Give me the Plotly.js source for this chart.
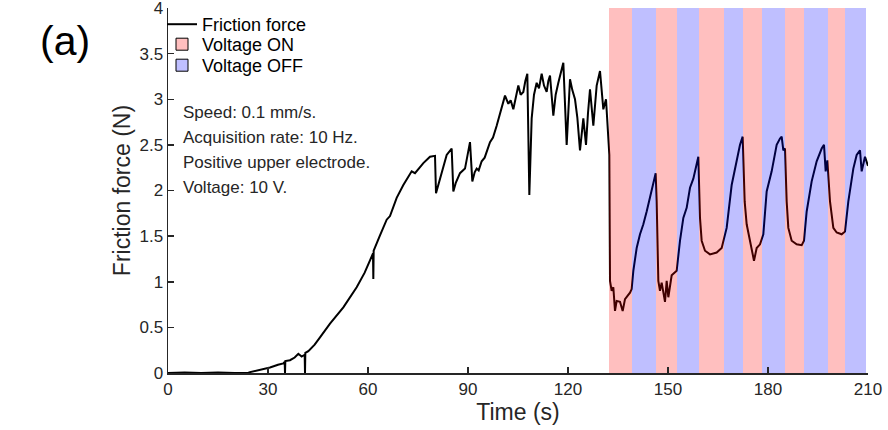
<!DOCTYPE html>
<html>
<head>
<meta charset="utf-8">
<script src="https://cdn.plot.ly/plotly-3.0.1.min.js"></script>
<style>html,body{margin:0;padding:0;background:#fff;}#chart{width:888px;height:430px;}</style>
</head>
<body>
<div id="chart"></div>
<script>
// ---- data ----
const timeS = [0, 5, 10, 15, 20, 24, 24.6, 27, 30.6, 33, 34.6, 35.0, 35.1, 35.2, 36.6, 38, 39.1, 40.1, 41.0, 41.1, 41.2, 42.1, 44, 45.6, 48.6, 52.6, 56.6, 59, 61.5, 61.6, 61.7, 63.5, 65.6, 66.6, 68.6, 70.6, 73.1, 74.1, 76.6, 78.6, 80.1, 80.4, 81.6, 83.6, 85.1, 85.6, 86.3, 87.6, 89.1, 90.6, 91.3, 92.0, 92.6, 93.2, 94.1, 95.0, 96.6, 97.5, 98.6, 99.3, 100.1, 101.1, 102.1, 102.8, 103.6, 104.3, 105.1, 105.8, 106.6, 107.2, 107.8, 108.4, 109.1, 109.8, 110.6, 111.3, 112.1, 112.8, 113.6, 114.1, 114.6, 115.6, 116.3, 117.1, 117.8, 118.6, 119.6, 120.6, 121.3, 122.1, 122.8, 123.6, 124.6, 125.4, 126.0, 126.6, 127.6, 128.1, 128.6, 129.6, 130.6, 131.4, 132.1, 132.4, 132.6, 133.1, 133.6, 134.1, 134.6, 135.6, 136.4, 137.1, 138.6, 139.1, 139.6, 140.6, 141.6, 142.6, 143.6, 144.6, 145.6, 146.3, 146.6, 147.1, 147.6, 148.1, 149.1, 149.6, 150.1, 151.1, 152.6, 153.6, 154.6, 155.6, 156.6, 157.6, 159.1, 159.6, 160.1, 161.1, 162.6, 164.6, 166.1, 166.8, 167.6, 169.1, 170.6, 171.6, 172.4, 173.0, 173.6, 175.1, 175.8, 176.6, 177.6, 178.6, 179.6, 181.1, 182.6, 183.6, 184.1, 184.6, 185.1, 185.6, 186.1, 187.1, 188.6, 190.1, 190.8, 191.6, 193.1, 194.6, 196.1, 196.8, 197.3, 197.8, 198.6, 199.6, 200.6, 202.1, 203.1, 204.1, 205.6, 206.6, 207.6, 208.1, 209.1, 210];
const frictionN = [0, 0.005, 0, 0.005, 0, 0, 0.01, 0.03, 0.06, 0.09, 0.105, 0.12, 0, 0.13, 0.14, 0.17, 0.21, 0.18, 0.2, 0, 0.22, 0.24, 0.31, 0.39, 0.54, 0.72, 0.94, 1.1, 1.31, 1.03, 1.34, 1.5, 1.68, 1.72, 1.92, 2.06, 2.21, 2.19, 2.30, 2.37, 2.38, 1.97, 2.13, 2.39, 2.46, 1.99, 2.08, 2.19, 2.24, 2.53, 2.10, 2.20, 2.24, 2.22, 2.32, 2.36, 2.53, 2.58, 2.71, 2.80, 2.93, 3.04, 2.95, 2.99, 2.89, 3.02, 3.15, 3.05, 3.08, 3.20, 3.28, 1.95, 2.79, 3.05, 3.18, 3.12, 3.28, 3.15, 3.08, 3.20, 3.26, 2.82, 3.05, 3.18, 3.30, 3.40, 2.50, 3.22, 3.10, 3.00, 2.80, 2.44, 2.79, 2.50, 2.85, 3.11, 2.71, 2.95, 3.15, 3.31, 2.89, 3.00, 2.55, 2.39, 1.01, 0.90, 0.94, 0.68, 0.79, 0.78, 0.68, 0.81, 0.88, 0.92, 1.12, 1.37, 1.52, 1.63, 1.77, 1.92, 2.10, 2.19, 1.88, 1.01, 0.90, 0.99, 0.78, 1.01, 0.83, 1.07, 1.12, 1.45, 1.70, 1.81, 2.03, 2.13, 2.37, 1.70, 1.45, 1.34, 1.30, 1.32, 1.37, 1.46, 1.59, 2.06, 2.33, 2.50, 2.59, 1.88, 1.63, 1.37, 1.23, 1.37, 1.41, 1.52, 1.99, 2.21, 2.50, 2.57, 2.59, 2.44, 2.46, 1.88, 1.59, 1.45, 1.41, 1.40, 1.45, 1.77, 2.10, 2.32, 2.46, 2.50, 2.21, 2.33, 1.88, 1.59, 1.54, 1.52, 1.55, 1.88, 2.24, 2.39, 2.44, 2.21, 2.37, 2.27];

// voltage ON / OFF intervals (s)
const onStart  = [132.2, 146.4, 159.2, 172.5, 185.2, 198.0];
const onEnd    = [139.3, 152.7, 166.7, 178.2, 190.7, 203.1];
const offStart = [139.3, 152.7, 166.7, 178.2, 190.7, 203.1];
const offEnd   = [146.4, 159.2, 172.5, 185.2, 198.0, 209.4];
const bandTop = 4;

const xTicks = [0, 30, 60, 90, 120, 150, 180, 210];
const yTicks = [0, 0.5, 1, 1.5, 2, 2.5, 3, 3.5, 4];
const yTickText = ['0', '0.5', '1', '1.5', '2', '2.5', '3', '3.5', '4'];
const infoLines = ['Speed: 0.1 mm/s.', 'Acquisition rate: 10 Hz.', 'Positive upper electrode.', 'Voltage: 10 V.'];

// ---- figure ----
const FONT = 'Arial, "Liberation Sans", Helvetica, sans-serif';
const TXT = 'rgb(38,38,38)';
const mids = (s, e) => s.map((v, i) => (v + e[i]) / 2);
const wids = (s, e) => s.map((v, i) => e[i] - v);

const traces = [
  {type: 'scatter', mode: 'lines', x: timeS, y: frictionN, name: 'Friction force',
   line: {color: '#000', width: 2}, xaxis: 'x', yaxis: 'y', legend: 'legend'},
  {type: 'bar', x: mids(onStart, onEnd), width: wids(onStart, onEnd), y: onStart.map(() => bandTop), base: 0,
   marker: {color: 'rgba(255,0,0,0.25)', line: {width: 0}}, showlegend: false, xaxis: 'x2', yaxis: 'y2', hoverinfo: 'skip'},
  {type: 'bar', x: mids(offStart, offEnd), width: wids(offStart, offEnd), y: offStart.map(() => bandTop), base: 0,
   marker: {color: 'rgba(0,0,255,0.25)', line: {width: 0}}, showlegend: false, xaxis: 'x2', yaxis: 'y2', hoverinfo: 'skip'},
  {type: 'bar', x: [null], y: [null], name: 'Voltage ON', legend: 'legend2',
   marker: {color: 'rgba(255,0,0,0.25)', line: {color: '#000', width: 1}}, xaxis: 'x2', yaxis: 'y2'},
  {type: 'bar', x: [null], y: [null], name: 'Voltage OFF', legend: 'legend3',
   marker: {color: 'rgba(0,0,255,0.25)', line: {color: '#000', width: 1}}, xaxis: 'x2', yaxis: 'y2'}
];

const TOP = 7, BOTTOM = 373, LEFT = 168, RIGHT = 868;
const pxX = px => (px - LEFT) / (RIGHT - LEFT);
const pxY = py => (BOTTOM - py) / (BOTTOM - TOP);

const annotations = infoLines.map((t, i) => ({
  text: t, xref: 'paper', yref: 'paper', x: pxX(181), y: pxY(112 + 25 * i),
  xanchor: 'left', yanchor: 'middle', showarrow: false, font: {family: FONT, size: 17, color: TXT}
}));
annotations.push({text: '(a)', xref: 'paper', yref: 'paper', x: pxX(38), y: pxY(40),
  xanchor: 'left', yanchor: 'middle', showarrow: false, font: {family: FONT, size: 41, color: '#000'}});

const axisCommon = {
  showgrid: false, zeroline: false, showline: true, linecolor: TXT, linewidth: 1.5,
  ticks: 'inside', ticklen: 6, tickwidth: 1.5, tickcolor: TXT, mirror: false,
  ticklabeloverflow: 'allow',
  tickfont: {family: FONT, size: 17, color: TXT}
};

const legendCommon = {xanchor: 'left', yanchor: 'top', bgcolor: 'rgba(0,0,0,0)',
  font: {family: FONT, size: 18, color: '#000'}, itemwidth: 30, borderwidth: 0};

const layout = {
  width: 888, height: 430,
  margin: {l: LEFT, r: 888 - RIGHT, t: TOP, b: 430 - BOTTOM},
  paper_bgcolor: '#fff', plot_bgcolor: '#fff',
  font: {family: FONT, color: TXT},
  barmode: 'overlay', bargap: 0,
  xaxis: Object.assign({}, axisCommon, {range: [0, 210.0001], tickvals: xTicks, ticktext: xTicks.map(String),
    title: {text: 'Time (s)', font: {family: FONT, size: 23, color: TXT}, standoff: 2}}),
  yaxis: Object.assign({}, axisCommon, {range: [0, 4.0001], tickvals: yTicks, ticktext: yTickText,
    title: {text: 'Friction force (N)', font: {family: FONT, size: 23, color: TXT}, standoff: 2}}),
  xaxis2: {overlaying: 'x', range: [0, 210.0001], visible: false, fixedrange: true},
  yaxis2: {overlaying: 'y', range: [0, 4.0001], visible: false, fixedrange: true},
  showlegend: true,
  legend: Object.assign({}, legendCommon, {x: pxX(162), y: pxY(6)}),
  legend2: Object.assign({}, legendCommon, {x: pxX(162), y: pxY(26)}),
  legend3: Object.assign({}, legendCommon, {x: pxX(162), y: pxY(47)}),
  annotations: annotations
};

Plotly.newPlot('chart', traces, layout, {displayModeBar: false, staticPlot: true});
</script>
</body>
</html>
